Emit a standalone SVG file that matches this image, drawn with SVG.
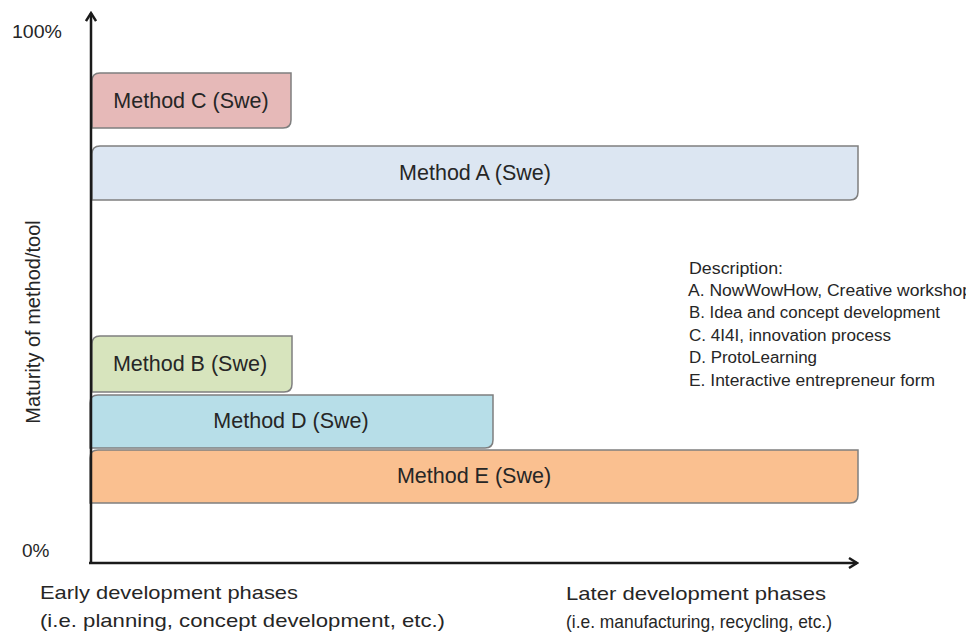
<svg xmlns="http://www.w3.org/2000/svg" width="966" height="634" viewBox="0 0 966 634">
<defs>
<marker id="arr" viewBox="0 0 12 12" refX="10" refY="6" markerWidth="12" markerHeight="12" markerUnits="userSpaceOnUse" orient="auto">
<path d="M2,1 L10,6 L2,11" fill="none" stroke="#1a1a1a" stroke-width="2.4"/>
</marker>
<style>
.box{stroke:#7f7f7f;stroke-width:1.5}
.lbl{font-family:"Liberation Sans",Arial,sans-serif;font-size:21.5px;fill:#262626;text-anchor:middle}
.txt{font-family:"Liberation Sans",Arial,sans-serif;fill:#262626}
.axis{stroke:#1a1a1a;stroke-width:2.5;fill:none}
</style>
</defs>
<rect width="966" height="634" fill="#fff"/>
<g id="methodC">
<path class="box" fill="#e6b9b8" d="M100,73 H291 V120 Q291,128 283,128 H92 V81 Q92,73 100,73 Z"/>
<text class="lbl" x="191" y="108">Method C (Swe)</text>
</g>
<g id="methodA">
<path class="box" fill="#dce6f2" d="M100,146 H858 V192 Q858,200 850,200 H92 V154 Q92,146 100,146 Z"/>
<text class="lbl" x="475" y="180">Method A (Swe)</text>
</g>
<g id="methodB">
<path class="box" fill="#d7e4bd" d="M100,336 H292 V384 Q292,392 284,392 H92 V344 Q92,336 100,336 Z"/>
<text class="lbl" x="190" y="371">Method B (Swe)</text>
</g>
<g id="methodD">
<path class="box" fill="#b7dee8" d="M98,395 H493 V440 Q493,448 485,448 H90 V403 Q90,395 98,395 Z"/>
<text class="lbl" x="291" y="428">Method D (Swe)</text>
</g>
<g id="methodE">
<path class="box" fill="#fac090" d="M98,450 H858 V495 Q858,503 850,503 H90 V458 Q90,450 98,450 Z"/>
<text class="lbl" x="474" y="483">Method E (Swe)</text>
</g>
<g id="connectors">
<line class="axis" x1="91" y1="564" x2="91" y2="13" marker-end="url(#arr)"/>
<line class="axis" x1="89" y1="563" x2="857" y2="563" marker-end="url(#arr)"/>
</g>
<g id="labels">
<text class="txt" x="12" y="38" font-size="19" textLength="50" lengthAdjust="spacingAndGlyphs">100%</text>
<text class="txt" x="22" y="557" font-size="19">0%</text>
<text class="txt" x="0" y="0" font-size="20" text-anchor="middle" transform="translate(40,322) rotate(-90)">Maturity of method/tool</text>
<text class="txt" x="40" y="599" font-size="19" textLength="258" lengthAdjust="spacingAndGlyphs">Early development phases</text>
<text class="txt" x="40" y="627" font-size="19" textLength="405" lengthAdjust="spacingAndGlyphs">(i.e. planning, concept development, etc.)</text>
<text class="txt" x="566" y="600" font-size="19" textLength="260" lengthAdjust="spacingAndGlyphs">Later development phases</text>
<text class="txt" x="566" y="628" font-size="19" textLength="266" lengthAdjust="spacingAndGlyphs">(i.e. manufacturing, recycling, etc.)</text>
</g>
<g id="description" font-size="16">
<text class="txt" x="689" y="274" textLength="94" lengthAdjust="spacingAndGlyphs">Description:</text>
<text class="txt" x="688" y="296" textLength="284" lengthAdjust="spacingAndGlyphs">A. NowWowHow, Creative workshop</text>
<text class="txt" x="689" y="318" textLength="251" lengthAdjust="spacingAndGlyphs">B. Idea and concept development</text>
<text class="txt" x="689" y="341" textLength="202" lengthAdjust="spacingAndGlyphs">C. 4I4I, innovation process</text>
<text class="txt" x="689" y="363" textLength="128" lengthAdjust="spacingAndGlyphs">D. ProtoLearning</text>
<text class="txt" x="689" y="386" textLength="246" lengthAdjust="spacingAndGlyphs">E. Interactive entrepreneur form</text>
</g>
</svg>
